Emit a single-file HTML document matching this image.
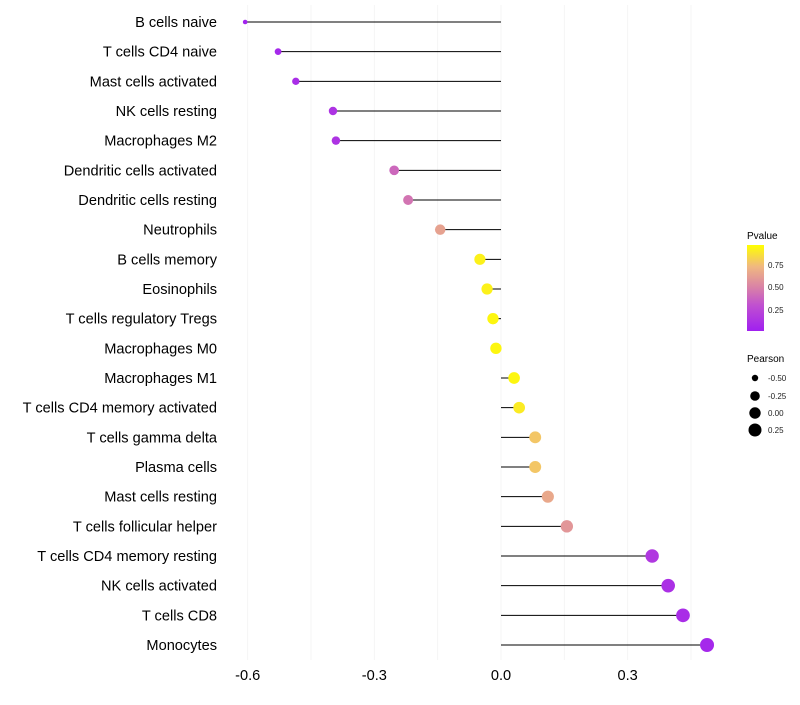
<!DOCTYPE html>
<html><head><meta charset="utf-8"><style>
body{margin:0;background:#fff;font-family:"Liberation Sans",sans-serif;}
svg text{font-family:"Liberation Sans",sans-serif;}
</style></head><body>
<svg id="chart" width="800" height="700" xmlns="http://www.w3.org/2000/svg">
<defs><linearGradient id="pg" x1="0" y1="1" x2="0" y2="0">
<stop offset="0" stop-color="#a020f0"/><stop offset="0.3" stop-color="#c050d0"/><stop offset="0.5" stop-color="#d880a8"/><stop offset="0.75" stop-color="#f0b880"/><stop offset="1" stop-color="#ffff00"/>
</linearGradient></defs>
<g id="grid"></g>
<g id="marks"></g>
<g id="labels"></g>
<g id="ticks"></g>
<g>
<text x="747" y="239" font-size="10" fill="#000">Pvalue</text>
<rect x="747" y="245" width="17" height="86" fill="url(#pg)"/>
<text x="768" y="268" font-size="8" fill="#222">0.75</text>
<text x="768" y="290" font-size="8" fill="#222">0.50</text>
<text x="768" y="313" font-size="8" fill="#222">0.25</text>
</g>
<g>
<text x="747" y="362" font-size="10" fill="#000">Pearson</text>
<circle cx="755" cy="378" r="3.2" fill="#000"/><text x="768" y="381" font-size="8" fill="#222">-0.50</text>
<circle cx="755" cy="396" r="4.8" fill="#000"/><text x="768" y="399" font-size="8" fill="#222">-0.25</text>
<circle cx="755" cy="413" r="5.7" fill="#000"/><text x="768" y="416" font-size="8" fill="#222">0.00</text>
<circle cx="755" cy="430" r="6.5" fill="#000"/><text x="768" y="433" font-size="8" fill="#222">0.25</text>
</g>
</svg>
<script>
const categories=["B cells naive","T cells CD4 naive","Mast cells activated","NK cells resting","Macrophages M2","Dendritic cells activated","Dendritic cells resting","Neutrophils","B cells memory","Eosinophils","T cells regulatory  Tregs ","Macrophages M0","Macrophages M1","T cells CD4 memory activated","T cells gamma delta","Plasma cells","Mast cells resting","T cells follicular helper","T cells CD4 memory resting","NK cells activated","T cells CD8","Monocytes"];
const pearson=[-0.606,-0.528,-0.486,-0.398,-0.391,-0.253,-0.220,-0.144,-0.050,-0.033,-0.019,-0.012,0.031,0.043,0.081,0.081,0.111,0.156,0.358,0.396,0.431,0.488];
const pvalues=[0.02,0.05,0.08,0.12,0.12,0.4,0.45,0.65,0.95,0.95,0.97,0.97,0.97,0.93,0.8,0.8,0.68,0.6,0.15,0.1,0.08,0.05];
const tickValues=[-0.6,-0.3,0.0,0.3];
const tickLabels=["-0.6","-0.3","0.0","0.3"];
const gridValues=[-0.6,-0.45,-0.3,-0.15,0,0.15,0.3,0.45];
const NS="http://www.w3.org/2000/svg";
const xS=v=>501+v*422.2;
const yS=i=>22+i*(623/21);
const rS=v=>2+5*Math.sqrt(Math.max(0,(v+0.61)/1.1));
const stops=[[0,[160,32,240]],[0.3,[192,80,208]],[0.5,[216,128,168]],[0.75,[240,184,128]],[1,[255,255,0]]];
function col(p){for(let i=1;i<stops.length;i++){if(p<=stops[i][0]){const a=stops[i-1],b=stops[i],t=(p-a[0])/(b[0]-a[0]);return "rgb("+a[1].map((c,k)=>Math.round(c+(b[1][k]-c)*t)).join(",")+")";}}return "rgb(255,255,0)";}
function mk(t,a,parent){const e=document.createElementNS(NS,t);for(const k in a)e.setAttribute(k,a[k]);parent.appendChild(e);return e;}
const grid=document.getElementById("grid"),marks=document.getElementById("marks"),labels=document.getElementById("labels"),ticks=document.getElementById("ticks");
gridValues.forEach(v=>{const l=mk("line",{x1:xS(v),x2:xS(v),y1:5,y2:660,stroke:"#f2f2f2","stroke-width":0.8},grid);

});
categories.forEach((c,i)=>{
const y=yS(i);
const ln=mk("line",{x1:xS(0),x2:xS(pearson[i]),y1:y,y2:y,stroke:"#000","stroke-width":1},marks);


const ci=mk("circle",{cx:xS(pearson[i]),cy:y,r:rS(pearson[i]),fill:col(pvalues[i])},marks);


const t=mk("text",{x:217,y:y+5,"text-anchor":"end","font-size":14.6,fill:"#000"},labels);
t.textContent=c;


});
tickValues.forEach((v,i)=>{const t=mk("text",{x:xS(v),y:680,"text-anchor":"middle","font-size":14.6,fill:"#000"},ticks);
t.textContent=tickLabels[i];

});
</script>
</body></html>
